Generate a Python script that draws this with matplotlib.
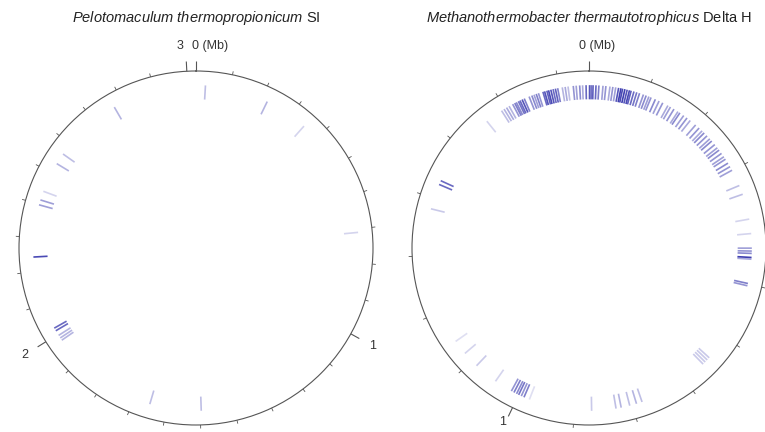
import numpy as np
import matplotlib
matplotlib.use('Agg')
import matplotlib.pyplot as plt
from matplotlib.colors import to_rgba

plt.rcParams['font.family'] = ['Liberation Sans', 'DejaVu Sans']
plt.rcParams['mathtext.fontset'] = 'custom'
plt.rcParams['mathtext.rm'] = 'Liberation Sans'
plt.rcParams['mathtext.it'] = 'Liberation Sans:italic'

# genome sizes (Mb)
pth_size = 3.025
mth_size = 1.751

# Pelotomaculum thermopropionicum SI: feature positions (Mb) and intensity
pth_pos = [0.028, 2.772, 0.218, 0.349, 0.710, 2.565, 2.531, 2.440, 2.413, 2.398,
           2.242, 2.012, 2.021, 1.979, 1.987, 1.996, 1.651, 1.497]
pth_int = [0.30, 0.35, 0.35, 0.20, 0.20, 0.30, 0.35, 0.20, 0.45, 0.45,
           0.85, 0.70, 0.70, 0.35, 0.35, 0.35, 0.30, 0.30]
pth_major = [0, 1, 2, 3]
pth_major_lbl = ['0 (Mb)', '1', '2', '3']

# Methanothermobacter thermautotrophicus Delta H: feature positions (Mb) and intensity
mth_pos = [1.593, 1.598, 1.603, 1.608, 1.615, 1.619, 1.622, 1.626, 1.629, 1.633,
           1.637, 1.646, 1.651, 1.655, 1.659, 1.663, 1.671, 1.674, 1.678, 1.681,
           1.685, 1.689, 1.693, 1.697, 1.705, 1.710, 1.715, 1.724, 1.729, 1.735,
           1.740, 1.746, 0.001, 0.004, 0.007, 0.012, 0.017, 0.024, 0.029, 0.036,
           0.041, 0.046, 0.051, 0.055, 0.058, 0.062, 0.066, 0.070, 0.073, 0.078,
           0.083, 0.088, 0.095, 0.100, 0.105, 0.109, 0.117, 0.124, 0.131, 0.141,
           0.146, 0.153, 0.161, 0.165, 0.173, 0.180, 0.187, 0.199, 0.207, 0.214,
           0.219, 0.226, 0.233, 0.238, 0.246, 0.253, 0.258, 0.265, 0.272, 0.277,
           0.285, 0.292, 0.299,
           1.425, 1.432, 1.381, 1.562, 0.328, 0.344, 0.388, 0.413,
           0.438, 0.443, 0.447, 0.454, 0.457, 0.499, 0.503,
           0.644, 0.649, 0.654, 0.659, 0.871, 0.829, 0.820, 0.805, 0.793, 0.783,
           0.990, 0.995, 1.000, 1.004, 1.009, 1.014, 0.980,
           1.143, 1.117, 1.088, 1.046]
mth_int = [0.30, 0.35, 0.40, 0.35, 0.50, 0.60, 0.55, 0.65, 0.70, 0.80,
           0.60, 0.50, 0.55, 0.45, 0.60, 0.50, 0.70, 0.80, 0.75, 0.85,
           0.80, 0.70, 0.75, 0.60, 0.35, 0.40, 0.30, 0.50, 0.45, 0.55,
           0.40, 0.70, 0.80, 0.65, 0.75, 0.70, 0.60, 0.45, 0.50, 0.40,
           0.50, 0.45, 0.80, 0.90, 0.85, 0.90, 0.80, 0.85, 0.75, 0.70,
           0.65, 0.60, 0.50, 0.55, 0.45, 0.50, 0.55, 0.45, 0.50, 0.40,
           0.45, 0.50, 0.40, 0.55, 0.45, 0.50, 0.40, 0.45, 0.50, 0.40,
           0.55, 0.50, 0.45, 0.55, 0.50, 0.45, 0.55, 0.50, 0.45, 0.50,
           0.55, 0.50, 0.45,
           0.70, 0.70, 0.25, 0.20, 0.30, 0.30, 0.20, 0.20,
           0.45, 0.50, 0.55, 0.90, 0.40, 0.60, 0.50,
           0.25, 0.25, 0.25, 0.25, 0.25, 0.30, 0.35, 0.30, 0.35, 0.30,
           0.60, 0.50, 0.65, 0.55, 0.60, 0.50, 0.15,
           0.15, 0.20, 0.25, 0.20]
mth_major = [0, 1]
mth_major_lbl = ['0 (Mb)', '1']

W, H = 765, 432
fig = plt.figure(figsize=(W / 100, H / 100), dpi=100)
fig.patch.set_facecolor('white')

feat_col = '#2a2aa8'
line_col = '#555555'
lbl_col = '#333333'


def genome_circle(cx, cy, rad, size, pos, inten, major, major_lbl, lbl_off, title):
    ax = fig.add_axes([(cx - rad) / W, (H - cy - rad) / H, 2 * rad / W, 2 * rad / H],
                      projection='polar')
    ax.set_theta_zero_location('N')
    ax.set_theta_direction(-1)
    ax.set_ylim(0, 1)
    ax.set_xticks([])
    ax.set_yticks([])
    ax.grid(False)
    ax.patch.set_alpha(0)
    ax.spines['polar'].set_color(line_col)
    ax.spines['polar'].set_linewidth(0.8)

    # features as radial stripes
    th = np.array(pos) / size * 2 * np.pi
    cols = [to_rgba(feat_col, a) for a in inten]
    ax.vlines(th, 0.84, 0.92, colors=cols, lw=1.2, capstyle='butt')

    # scale ticks every 0.1 Mb, labelled every 1 Mb
    minor = [k / 10 for k in range(1, int(size * 10) + 1) if k % 10 != 0]
    ax.vlines(np.array(minor) / size * 2 * np.pi, 1.0, 1.02, colors=line_col,
              lw=0.6, clip_on=False)
    tm = np.array(major) / size * 2 * np.pi
    ax.vlines(tm, 1.0, 1.055, colors=line_col, lw=0.8, clip_on=False)
    for t, lbl, (dx, dy, ha, rr) in zip(tm, major_lbl, lbl_off):
        ax.annotate(lbl, xy=(t, rr), xytext=(dx, dy), textcoords='offset points',
                    ha=ha, va='center', fontsize=9, color=lbl_col,
                    annotation_clip=False)
    fig.text(cx / W, 1 - 18 / H, title, ha='center', va='center', fontsize=10.5,
             color='#222222')
    return ax


genome_circle(196, 248, 177, pth_size, pth_pos, pth_int, pth_major, pth_major_lbl,
              [(-3, 0, 'left', 1.14), (0, 0, 'center', 1.14),
               (0, 0, 'center', 1.14), (-4, 0, 'center', 1.14)],
              r'$\mathit{Pelotomaculum\ thermopropionicum}$ SI')
genome_circle(589, 248, 177, mth_size, mth_pos, mth_int, mth_major, mth_major_lbl,
              [(6, 0, 'center', 1.14), (-2, 0, 'center', 1.09)],
              r'$\mathit{Methanothermobacter\ thermautotrophicus}$ Delta H')

fig.savefig('out.png', dpi=100)
